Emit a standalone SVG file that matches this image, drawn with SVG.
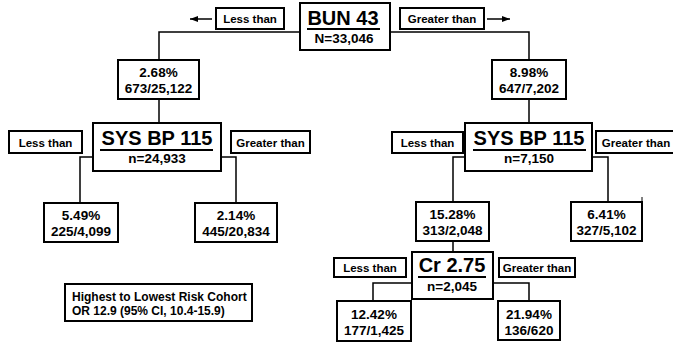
<svg xmlns="http://www.w3.org/2000/svg" width="673" height="345" viewBox="0 0 673 345">
<defs>
<style>
text{font-family:"Liberation Sans",Arial,sans-serif;font-weight:bold;fill:#000}
.box{fill:#fff;stroke:#000;stroke-width:2}
.lbl{font-size:11.5px;text-anchor:middle}
.num{font-size:13.5px;text-anchor:middle}
.head{font-size:20px;text-anchor:middle}
.ul{stroke:#000;stroke-width:2}
.con{fill:none;stroke:#000;stroke-width:1.5}
.note{font-size:12px}
</style>
<marker id="ah" viewBox="0 0 8 6" refX="8" refY="3" markerWidth="8" markerHeight="6" markerUnits="userSpaceOnUse" orient="auto">
<path d="M0,0 L8,3 L0,6 Z" fill="#000"/>
</marker>
</defs>
<rect width="673" height="345" fill="#fff"/>
<g id="connectors">
<path class="con" d="M300,32 H159 V60"/>
<path class="con" d="M390,32 H529 V60"/>
<path class="con" d="M159,99 V123"/>
<path class="con" d="M529,99 V123"/>
<path class="con" d="M93,157 H80 V203"/>
<path class="con" d="M221,157 H236 V203"/>
<path class="con" d="M465,157 H453 V202"/>
<path class="con" d="M592,157 H608 V202"/>
<path class="con" d="M453,241 V252"/>
<path class="con" d="M412,283 H373 V301"/>
<path class="con" d="M493,283 H529 V301"/>
<line class="con" x1="212" y1="19" x2="190" y2="19" marker-end="url(#ah)"/>
<line class="con" x1="487" y1="19" x2="510" y2="19" marker-end="url(#ah)"/>
<line x1="642" y1="197" x2="642" y2="202" stroke="#000" stroke-width="1"/>
</g>
<g id="bun">
<rect class="box" x="300" y="3" width="90" height="47"/>
<text class="head" x="343" y="25">BUN 43</text>
<line class="ul" x1="307" y1="29" x2="380" y2="29"/>
<text class="num" x="344" y="43">N=33,046</text>
</g>
<g id="bun-less"><rect class="box" x="216" y="8" width="68" height="21"/><text class="lbl" x="250" y="23">Less than</text></g>
<g id="bun-greater"><rect class="box" x="400" y="8" width="84" height="21"/><text class="lbl" x="442" y="23">Greater than</text></g>
<g id="n268"><rect class="box" x="118" y="60" width="81" height="39"/><text class="num" x="158.5" y="77">2.68%</text><text class="num" x="158.5" y="93">673/25,122</text></g>
<g id="n898"><rect class="box" x="492" y="60" width="74" height="39"/><text class="num" x="529" y="77">8.98%</text><text class="num" x="529" y="93">647/7,202</text></g>
<g id="sys-left">
<rect class="box" x="93" y="123" width="128" height="48"/>
<text class="head" x="157" y="145">SYS BP 115</text>
<line class="ul" x1="100" y1="150" x2="213" y2="150"/>
<text class="num" x="157" y="163">n=24,933</text>
</g>
<g id="sys-left-less"><rect class="box" x="9" y="131" width="73" height="22"/><text class="lbl" x="45.5" y="146.5">Less than</text></g>
<g id="sys-left-greater"><rect class="box" x="231" y="131" width="79" height="22"/><text class="lbl" x="270.5" y="146.5">Greater than</text></g>
<g id="sys-right">
<rect class="box" x="465" y="123" width="127" height="48"/>
<text class="head" x="529" y="145">SYS BP 115</text>
<line class="ul" x1="473" y1="150" x2="586" y2="150"/>
<text class="num" x="529" y="163">n=7,150</text>
</g>
<g id="sys-right-less"><rect class="box" x="392" y="132" width="71" height="21"/><text class="lbl" x="427.5" y="147">Less than</text></g>
<g id="sys-right-greater"><rect class="box" x="596" y="131" width="84" height="22"/><text class="lbl" x="636" y="146.5">Greater than</text></g>
<g id="n549"><rect class="box" x="44" y="203" width="74" height="39"/><text class="num" x="81" y="220">5.49%</text><text class="num" x="81" y="236">225/4,099</text></g>
<g id="n214"><rect class="box" x="195" y="203" width="82" height="39"/><text class="num" x="236" y="220">2.14%</text><text class="num" x="236" y="236">445/20,834</text></g>
<g id="n1528"><rect class="box" x="416" y="202" width="73" height="39"/><text class="num" x="452.5" y="219">15.28%</text><text class="num" x="452.5" y="235">313/2,048</text></g>
<g id="n641"><rect class="box" x="571" y="202" width="71" height="39"/><text class="num" x="606.5" y="219">6.41%</text><text class="num" x="606.5" y="235">327/5,102</text></g>
<g id="cr">
<rect class="box" x="412" y="252" width="81" height="47"/>
<text class="head" x="452" y="272">Cr 2.75</text>
<line class="ul" x1="418" y1="277" x2="486" y2="277"/>
<text class="num" x="452" y="291">n=2,045</text>
</g>
<g id="cr-less"><rect class="box" x="334" y="258" width="72" height="19"/><text class="lbl" x="370" y="272">Less than</text></g>
<g id="cr-greater"><rect class="box" x="499" y="258" width="76" height="19"/><text class="lbl" x="537" y="272">Greater than</text></g>
<g id="n1242"><rect class="box" x="337" y="301" width="74" height="40"/><text class="num" x="374" y="319">12.42%</text><text class="num" x="374" y="335">177/1,425</text></g>
<g id="n2194"><rect class="box" x="498" y="301" width="62" height="39"/><text class="num" x="529" y="319">21.94%</text><text class="num" x="529" y="335">136/620</text></g>
<g id="note">
<rect class="box" x="65" y="284" width="187" height="37"/>
<text class="note" x="72" y="301">Highest to Lowest Risk Cohort</text>
<text class="note" x="72" y="315">OR 12.9 (95% CI, 10.4-15.9)</text>
</g>
</svg>
